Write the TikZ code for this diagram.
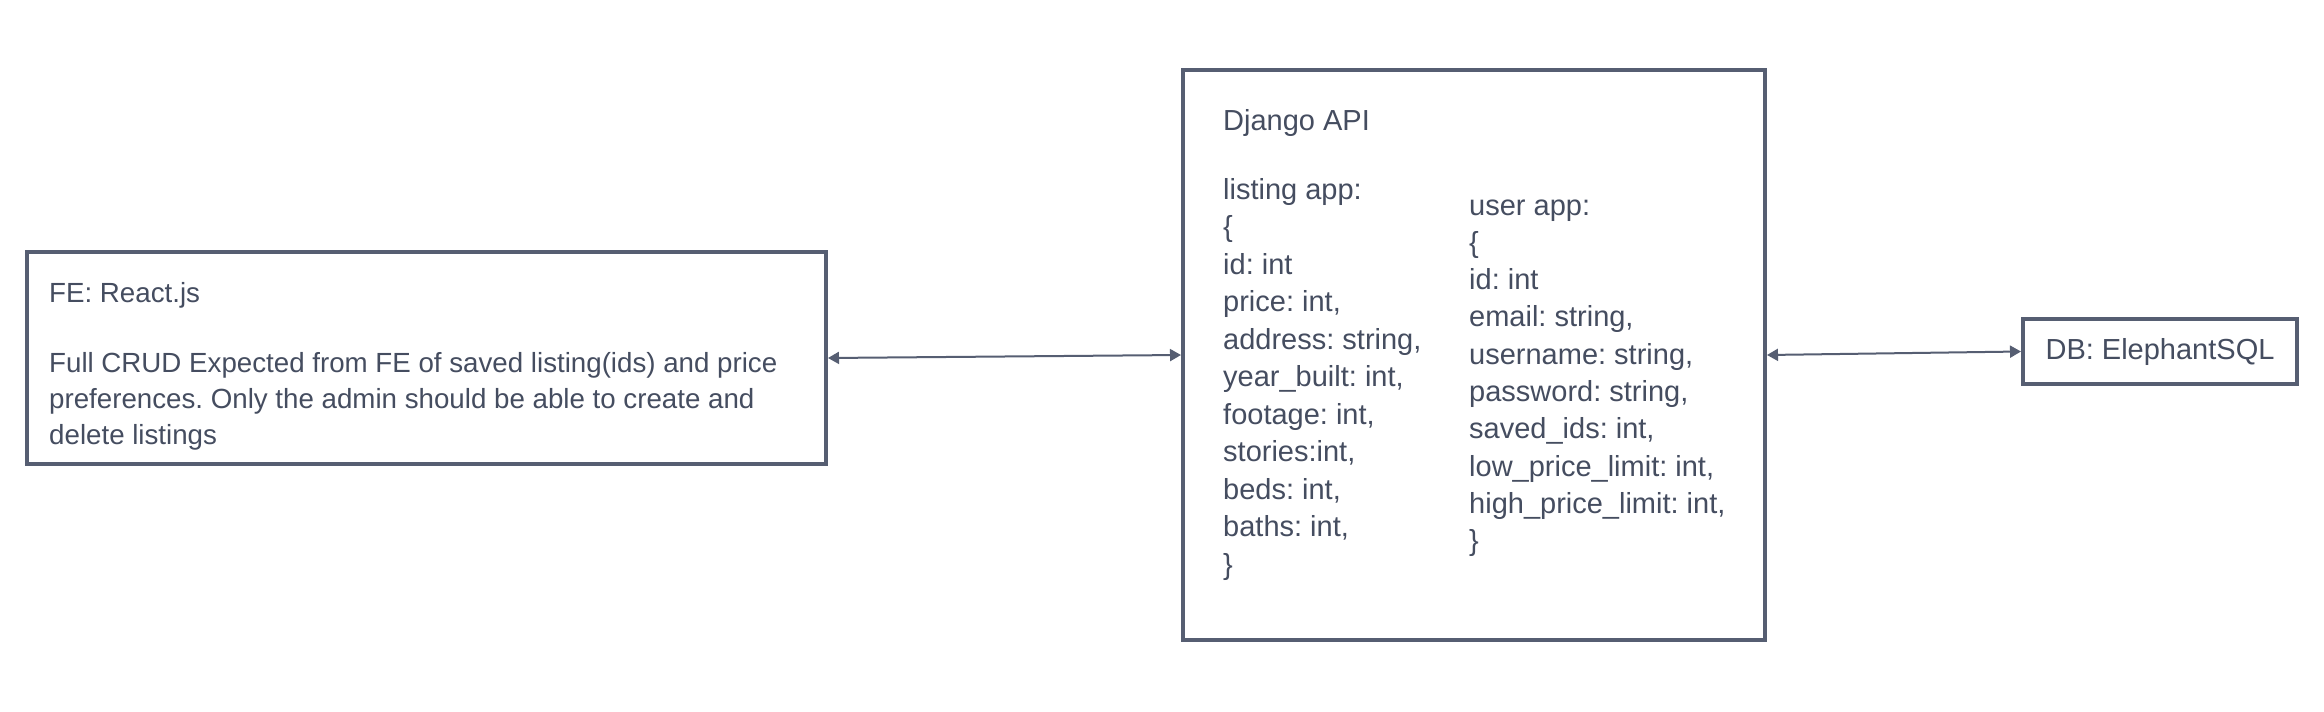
\documentclass[tikz,border=0pt]{standalone}
\usepackage{fontspec}
\setmainfont{Liberation Sans}
\usetikzlibrary{arrows.meta}
\definecolor{edge}{HTML}{565E72}
\definecolor{ink}{HTML}{454D60}
\frenchspacing
\begin{document}
\begin{tikzpicture}[x=1pt,y=-1pt,
  box/.style={draw=edge, line width=4pt, rectangle, inner sep=0pt, fill=white},
  txt/.style={anchor=base west, inner sep=0pt, text=ink, font=\fontsize{29}{36}\selectfont},
  ltxt/.style={txt, font=\fontsize{27.7}{36}\selectfont},
  link/.style={draw=edge, line width=2pt, {Triangle[length=11pt,width=12pt]}-{Triangle[length=11pt,width=12pt]}}
]
\useasboundingbox[fill=white] (0,0) rectangle (2324,712);
% boxes
\node[box, minimum width=799pt, minimum height=212pt] (fe) at (426.5,358) {};
\node[box, minimum width=582pt, minimum height=570pt] (api) at (1474,355) {};
\node[box, minimum width=274pt, minimum height=65pt] (db) at (2160,351.5) {};
% FE text
\node[ltxt] (fetitle) at (49,302) {FE: React.js};
\node[ltxt] (fe1) at (49,372) {Full CRUD Expected from FE of saved listing(ids) and price};
\node[ltxt] (fe2) at (49,408) {preferences. Only the admin should be able to create and};
\node[ltxt] (fe3) at (49,444) {delete listings};
% API text
\node[txt] (apititle) at (1223,130) {Django API};
\foreach \t [count=\i from 0] in {{listing app:},{\{},{id: int},{price: int,},{address: string,},{year\_built: int,},{footage: int,},{stories:int,},{beds: int,},{baths: int,},{\}}}
  \node[txt] (la\i) at (1223,{199+37.5*\i}) {\t};
\foreach \t [count=\i from 0] in {{user app:},{\{},{id: int},{email: string,},{username: string,},{password: string,},{saved\_ids: int,},{low\_price\_limit: int,},{high\_price\_limit: int,},{\}}}
  \node[txt] (ua\i) at (1469,{215+37.3*\i}) {\t};
% DB text
\node[txt, anchor=center] (dbtext) at (db.center) {DB: ElephantSQL};
% connectors
\draw[link] (fe.east) -- (api.west);
\draw[link] (api.east) -- (db.west);
\end{tikzpicture}
\end{document}
